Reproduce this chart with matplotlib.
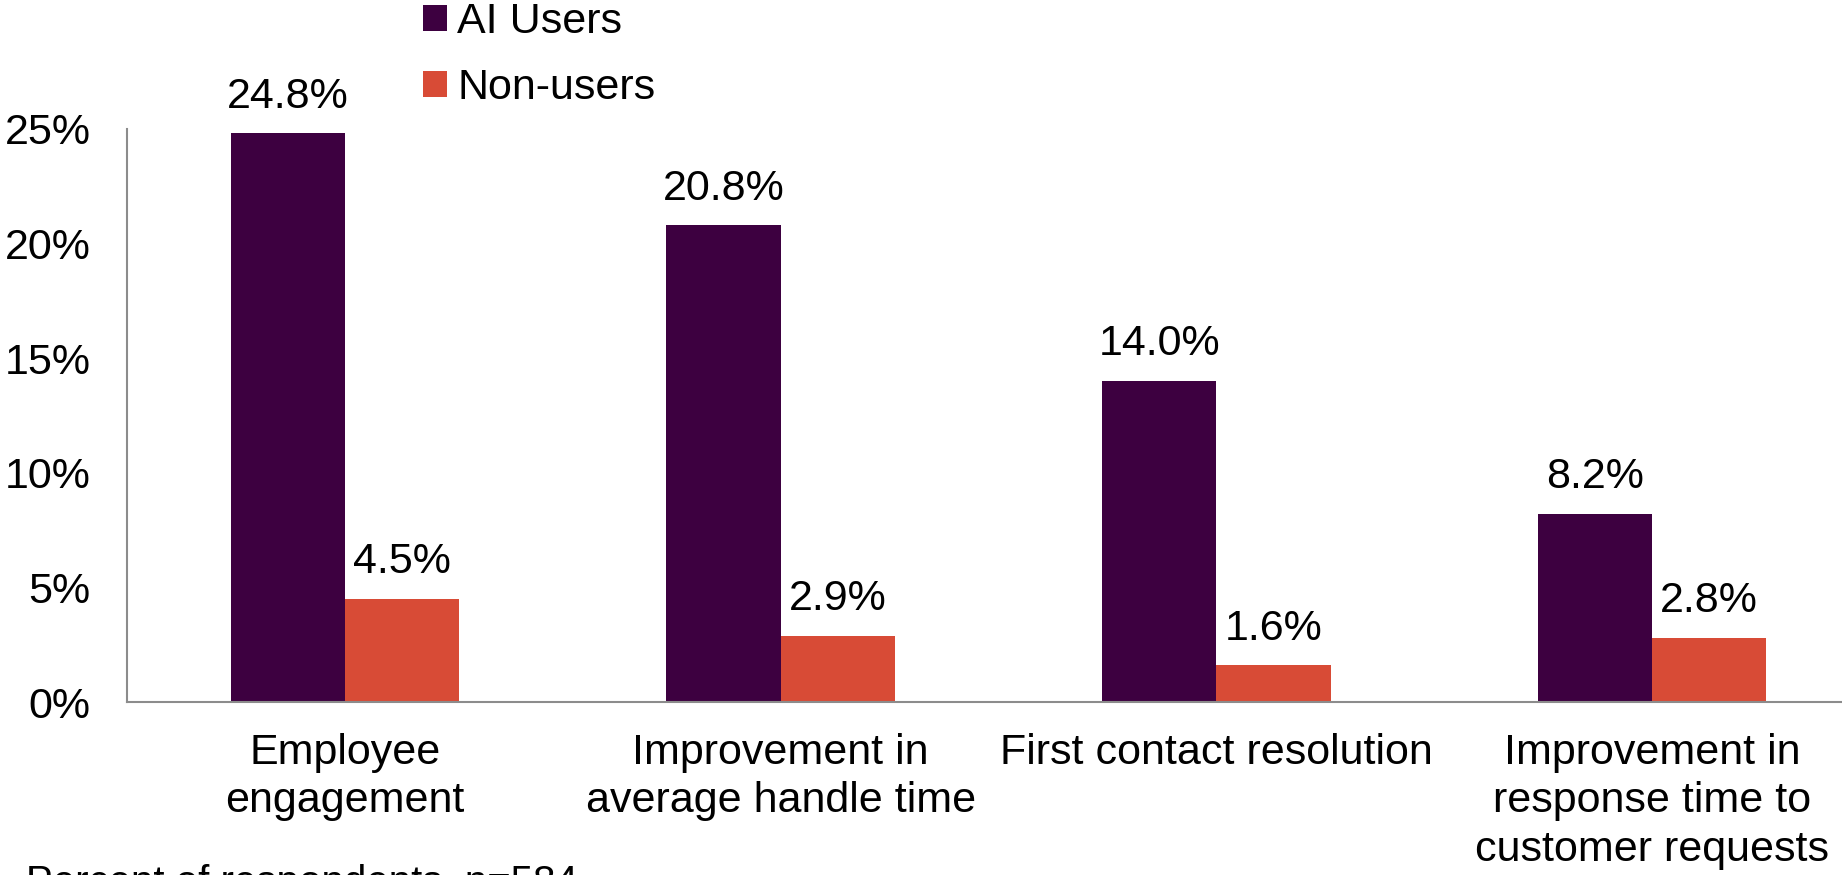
import matplotlib
matplotlib.use("Agg")
import matplotlib.pyplot as plt
import numpy as np

plt.rcParams['font.family'] = ['Liberation Sans', 'DejaVu Sans']

# chart data
categories = ["Employee\nengagement",
              "Improvement in\naverage handle time",
              "First contact resolution",
              "Improvement in\nresponse time to\ncustomer requests"]
ai_users = [24.8, 20.8, 14.0, 8.2]
non_users = [4.5, 2.9, 1.6, 2.8]
series_names = ["AI Users", "Non-users"]
yticks = [0, 5, 10, 15, 20, 25]

purple = "#3D0040"
orange = "#D84B36"
grey = "#8C8C8C"
fs = 31

fig = plt.figure(figsize=(18.42, 8.75), dpi=100)
ax = fig.add_axes([0.0689, 0.1977, 0.9463, 0.655])

x = np.arange(len(categories))
w = 0.262
b1 = ax.bar(x - w / 2, ai_users, w, color=purple, label=series_names[0])
b2 = ax.bar(x + w / 2, non_users, w, color=orange, label=series_names[1])

for bars, vals in ((b1, ai_users), (b2, non_users)):
    for r, v in zip(bars, vals):
        ax.annotate(f"{v:.1f}%", (r.get_x() + r.get_width() / 2, v),
                    xytext=(0, 12), textcoords="offset points",
                    ha="center", va="bottom", fontsize=fs)

ax.set_xlim(-0.5, len(categories) - 0.5)
ax.set_ylim(0, 25)
ax.set_yticks(yticks)
ax.set_yticklabels([f"{t}%" for t in yticks])
ax.set_xticks(x)
ax.set_xticklabels(categories, linespacing=1.28)
ax.tick_params(axis="y", length=0, pad=26, labelsize=fs)
ax.tick_params(axis="x", length=0, pad=22, labelsize=fs)

for s in ("top", "right"):
    ax.spines[s].set_visible(False)
for s in ("left", "bottom"):
    ax.spines[s].set_color(grey)
    ax.spines[s].set_linewidth(1.5)

fig.legend(handles=[b1, b2], loc="center left", bbox_to_anchor=(0.2296, 0.937),
           frameon=False, fontsize=fs, handlelength=0.55, handleheight=0.55,
           handletextpad=0.25, labelspacing=0.62, borderpad=0, borderaxespad=0)

fig.text(0.014, -0.022, "Percent of respondents, n=584", fontsize=29,
         ha="left", va="baseline")

fig.savefig("out.png", dpi=100)
